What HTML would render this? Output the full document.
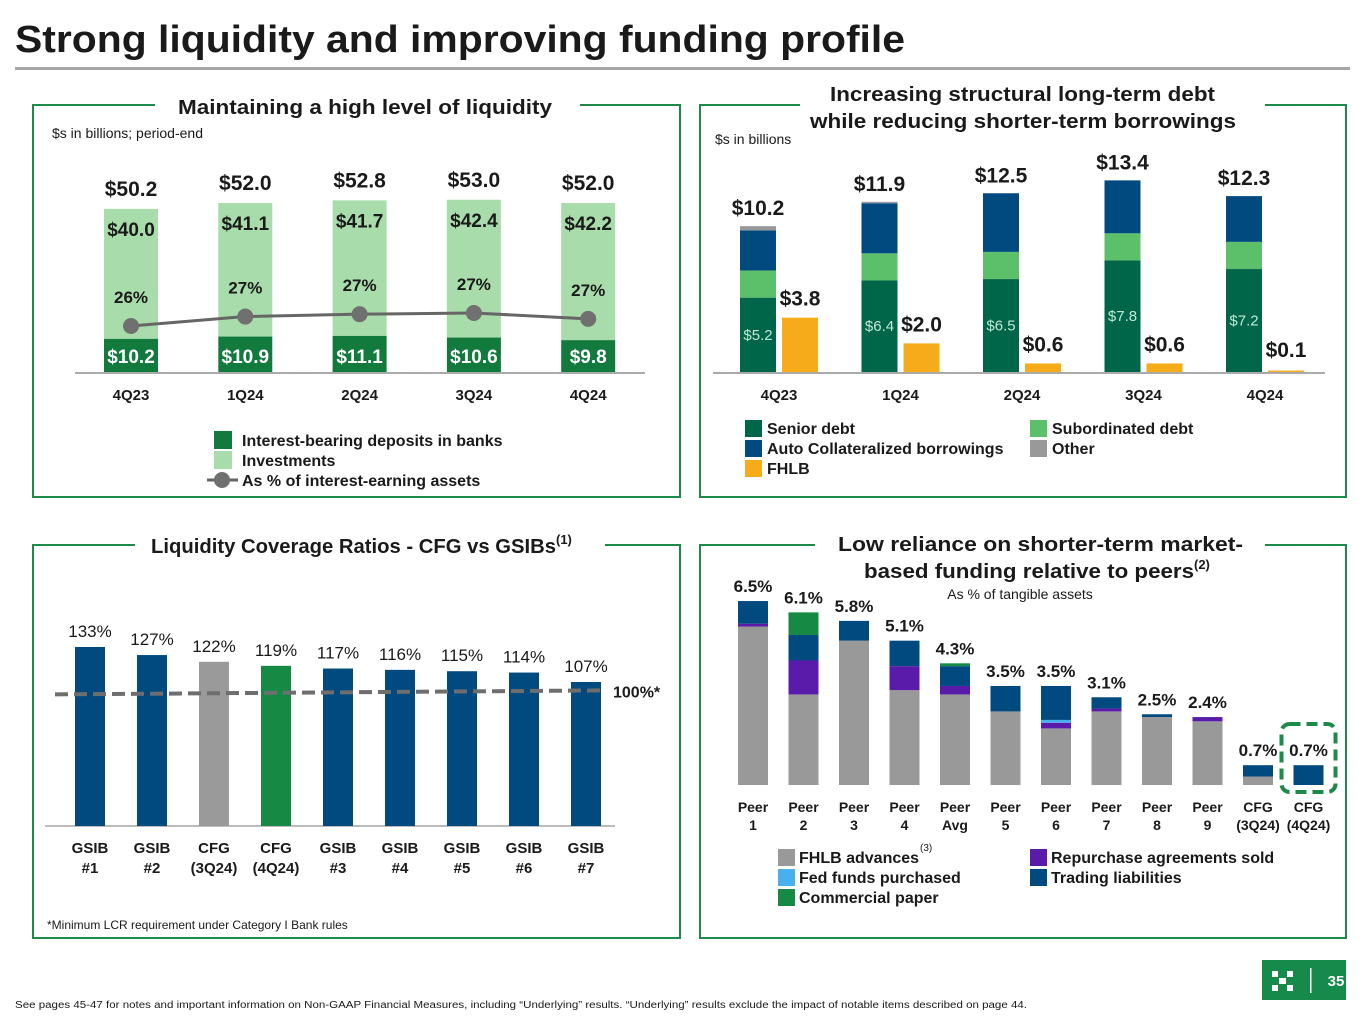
<!DOCTYPE html>
<html><head><meta charset="utf-8"><style>
html,body{margin:0;padding:0;background:#fff}
svg{display:block;font-family:"Liberation Sans",Arial,sans-serif}
</style></head><body>
<svg id="s" width="1365" height="1024" viewBox="0 0 1365 1024" xmlns="http://www.w3.org/2000/svg">
<text x="15" y="52" font-size="38" font-weight="bold" fill="#1a1a1a" textLength="890" lengthAdjust="spacingAndGlyphs">Strong liquidity and improving funding profile</text>
<rect x="15" y="67" width="1335" height="3" fill="#a6a6a6"/>
<g fill="none" stroke="#1e8a4a" stroke-width="2">
<rect x="33" y="105" width="647" height="392"/><rect x="700" y="105" width="646" height="392"/>
<rect x="33" y="545" width="647" height="393"/><rect x="700" y="545" width="646" height="393"/>
</g>
<rect x="155" y="92" width="425" height="26" fill="#fff"/>
<text x="178" y="114" font-size="20" font-weight="bold" fill="#1a1a1a" textLength="374" lengthAdjust="spacingAndGlyphs">Maintaining a high level of liquidity</text>
<rect x="800" y="80" width="465" height="56" fill="#fff"/>
<text font-size="20" font-weight="bold" fill="#1a1a1a"><tspan x="830" y="101" textLength="385" lengthAdjust="spacingAndGlyphs">Increasing structural long-term debt</tspan><tspan x="810" y="128" textLength="426" lengthAdjust="spacingAndGlyphs">while reducing shorter-term borrowings</tspan></text>
<rect x="135" y="530" width="470" height="28" fill="#fff"/>
<text font-size="20" font-weight="bold" fill="#1a1a1a"><tspan x="151" y="553" textLength="405" lengthAdjust="spacingAndGlyphs">Liquidity Coverage Ratios - CFG vs GSIBs</tspan><tspan font-size="13" dy="-9">(1)</tspan></text>
<rect x="815" y="530" width="450" height="56" fill="#fff"/>
<text font-size="20" font-weight="bold" fill="#1a1a1a"><tspan x="838" y="551" textLength="405" lengthAdjust="spacingAndGlyphs">Low reliance on shorter-term market-</tspan><tspan x="864" y="578" textLength="330" lengthAdjust="spacingAndGlyphs">based funding relative to peers</tspan><tspan font-size="13" dy="-9">(2)</tspan></text>
<text x="52" y="138" font-size="14" fill="#1a1a1a">$s in billions; period-end</text>
<text x="715" y="144" font-size="14" fill="#1a1a1a">$s in billions</text>
<text x="1020" y="599" font-size="14" text-anchor="middle" fill="#1a1a1a">As % of tangible assets</text>
<text x="47" y="929" font-size="12" fill="#1a1a1a">*Minimum LCR requirement under Category I Bank rules</text>
<text x="15" y="1008" font-size="10" fill="#1a1a1a" textLength="1012" lengthAdjust="spacingAndGlyphs">See pages 45-47 for notes and important information on Non-GAAP Financial Measures, including “Underlying” results. “Underlying” results exclude the impact of notable items described on page 44.</text>
<g>
<rect x="1262" y="960" width="84" height="40" fill="#168a4a"/>
<g fill="#fff"><rect x="1272" y="971" width="6" height="6"/><rect x="1287" y="971" width="6" height="6"/><rect x="1272" y="985" width="6" height="6"/><rect x="1287" y="985" width="6" height="6"/><rect x="1279" y="978" width="7" height="6"/></g>
<rect x="1310" y="968" width="1.5" height="25" fill="#fff"/>
<text x="1336" y="986" font-size="15" font-weight="bold" fill="#fff" text-anchor="middle">35</text>
</g>
<g id="tl"></g><g id="tr"></g><g id="bl"></g><g id="br"></g>
</svg>
<script>
const NS='http://www.w3.org/2000/svg';
function mk(parent,tag,attrs,txt){const e=document.createElementNS(NS,tag);for(const k in attrs)e.setAttribute(k,attrs[k]);if(txt!==undefined)e.textContent=txt;parent.appendChild(e);return e;}

// ---------- Top-left data ----------
const tlCats=['4Q23','1Q24','2Q24','3Q24','4Q24'];
const tlDeposits=[10.2,10.9,11.1,10.6,9.8];
const tlInvest=[40.0,41.1,41.7,42.4,42.2];
const tlTotals=['$50.2','$52.0','$52.8','$53.0','$52.0'];
const tlPct=[26.4,27.2,27.4,27.5,27.0];
const tlPctLabels=['26%','27%','27%','27%','27%'];
// ---------- Top-right data ----------
const trCats=['4Q23','1Q24','2Q24','3Q24','4Q24'];
const trSenior=[5.2,6.4,6.5,7.8,7.2];
const trSub=[1.9,1.9,1.9,1.9,1.9];
const trAuto=[2.8,3.5,4.1,3.7,3.2];
const trOther=[0.3,0.1,0,0,0];
const trFhlb=[3.8,2.0,0.6,0.6,0.1];
const trTotals=['$10.2','$11.9','$12.5','$13.4','$12.3'];
// ---------- Bottom-left data ----------
const blCats=[['GSIB','#1'],['GSIB','#2'],['CFG','(3Q24)'],['CFG','(4Q24)'],['GSIB','#3'],['GSIB','#4'],['GSIB','#5'],['GSIB','#6'],['GSIB','#7']];
const blVals=[133,127,122,119,117,116,115,114,107];
const blMin=100;
// ---------- Bottom-right data ----------
const brCats=[['Peer','1'],['Peer','2'],['Peer','3'],['Peer','4'],['Peer','Avg'],['Peer','5'],['Peer','6'],['Peer','7'],['Peer','8'],['Peer','9'],['CFG','(3Q24)'],['CFG','(4Q24)']];
const brFhlb=[5.6,3.2,5.1,3.35,3.2,2.6,2.0,2.6,2.4,2.25,0.3,0];
const brRepo=[0.1,1.2,0,0.85,0.3,0,0.2,0.1,0,0.15,0,0];
const brFed=[0,0,0,0,0,0,0.1,0,0,0,0,0];
const brTrading=[0.8,0.9,0.7,0.9,0.7,0.9,1.2,0.4,0.1,0,0.4,0.7];
const brCP=[0,0.8,0,0,0.1,0,0,0,0,0,0,0];
const brLabels=['6.5%','6.1%','5.8%','5.1%','4.3%','3.5%','3.5%','3.1%','2.5%','2.4%','0.7%','0.7%'];

// ===== Top-left chart =====
(function(){
 const g=document.getElementById('tl');
 const base=372, k=3.25, bw=54;
 const x=i=>131+i*114.3;
 const y=v=>base-v*k;
 const yp=p=>base-(p-22.5)*11.8;
 mk(g,'line',{x1:75,x2:645,y1:base+1,y2:base+1,stroke:'#aaa','stroke-width':2,});
 tlCats.forEach((c,i)=>{
  const d=tlDeposits[i],t=d+tlInvest[i];
  let r=mk(g,'rect',{x:x(i)-bw/2,y:y(t),width:bw,height:y(d)-y(t),fill:'#a8dcaa'});
  
  
  r=mk(g,'rect',{x:x(i)-bw/2,y:y(d),width:bw,height:base-y(d),fill:'#137a3e'});
  
  
  mk(g,'text',{x:x(i),y:y(t)-13,'font-size':21,'font-weight':'bold','text-anchor':'middle',fill:'#1a1a1a',},tlTotals[i]);
  mk(g,'text',{x:x(i),y:y(t)+27,'font-size':19,'font-weight':'bold','text-anchor':'middle',fill:'#1a1a1a',},'$'+tlInvest[i].toFixed(1));
  mk(g,'text',{x:x(i),y:base-9,'font-size':19,'font-weight':'bold','text-anchor':'middle',fill:'#fff',},'$'+d.toFixed(1));
  mk(g,'text',{x:x(i),y:400,'font-size':15,'font-weight':'bold','text-anchor':'middle',fill:'#1a1a1a',},c);
  mk(g,'text',{x:x(i),y:yp(tlPct[i])-23,'font-size':17,'font-weight':'bold','text-anchor':'middle',fill:'#1a1a1a',},tlPctLabels[i]);
 });
 const pts=tlPct.map((p,i)=>x(i)+','+yp(p)).join(' ');
 mk(g,'polyline',{points:pts,fill:'none',stroke:'#666','stroke-width':3,});
 tlPct.forEach((p,i)=>{const c=mk(g,'circle',{cx:x(i),cy:yp(p),r:8,fill:'#707070'});
  
  });
 const L=mk(g,'g',{});
 mk(L,'rect',{x:214,y:431,width:18,height:18,fill:'#137a3e'});
 mk(L,'text',{x:242,y:446,'font-size':16,'font-weight':'bold',fill:'#1a1a1a'},'Interest-bearing deposits in banks');
 mk(L,'rect',{x:214,y:451,width:18,height:18,fill:'#a8dcaa'});
 mk(L,'text',{x:242,y:466,'font-size':16,'font-weight':'bold',fill:'#1a1a1a'},'Investments');
 mk(L,'line',{x1:207,x2:238,y1:480,y2:480,stroke:'#666','stroke-width':3});
 mk(L,'circle',{cx:222,cy:480,r:8,fill:'#707070'});
 mk(L,'text',{x:242,y:486,'font-size':16,'font-weight':'bold',fill:'#1a1a1a'},'As % of interest-earning assets');
})();

// ===== Top-right chart =====
(function(){
 const g=document.getElementById('tr');
 const base=372,k=14.3,bw=36;
 const x=i=>779+i*121.5;
 const y=v=>base-v*k;
 mk(g,'line',{x1:713,x2:1325,y1:base+1,y2:base+1,stroke:'#aaa','stroke-width':2,});
 const series=[[trSenior,'#00664a','senior'],[trSub,'#5cbf6a','subordinated'],[trAuto,'#004a80','auto-collateralized'],[trOther,'#999','other']];
 trCats.forEach((c,i)=>{
  let acc=0;const cx=x(i)-21;
  series.forEach(s=>{const v=s[0][i];if(v>0){const r=mk(g,'rect',{x:cx-bw/2,y:y(acc+v),width:bw,height:v*k,fill:s[1]});
   
   }acc+=v;});
  mk(g,'text',{x:cx,y:y(acc)-11,'font-size':21,'font-weight':'bold','text-anchor':'middle',fill:'#1a1a1a',},trTotals[i]);
  mk(g,'text',{x:cx,y:y(trSenior[i]/2)+5,'font-size':15,'text-anchor':'middle',fill:'#bfe8d2',},'$'+trSenior[i].toFixed(1));
  const fx=x(i)+21,f=trFhlb[i];
  const r=mk(g,'rect',{x:fx-bw/2,y:y(f),width:bw,height:f*k,fill:'#f5ab1a'});
  
  
  mk(g,'text',{x:fx,y:Math.min(y(f)-12,357),'font-size':21,'font-weight':'bold','text-anchor':'middle',fill:'#1a1a1a',},'$'+f.toFixed(1));
  mk(g,'text',{x:x(i),y:400,'font-size':15,'font-weight':'bold','text-anchor':'middle',fill:'#1a1a1a',},c);
 });
 const L=mk(g,'g',{});
 [['#00664a','Senior debt',745,420],['#004a80','Auto Collateralized borrowings',745,440],['#f5ab1a','FHLB',745,460],['#5cbf6a','Subordinated debt',1030,420],['#999','Other',1030,440]].forEach(e=>{
  mk(L,'rect',{x:e[2],y:e[3],width:17,height:17,fill:e[0]});
  mk(L,'text',{x:e[2]+22,y:e[3]+14,'font-size':16,'font-weight':'bold',fill:'#1a1a1a'},e[1]);});
})();

// ===== Bottom-left chart =====
(function(){
 const g=document.getElementById('bl');
 const base=826,k=1.346,bw=30;
 const x=i=>90+i*62;
 const y=v=>base-v*k;
 const cols=['#004a80','#004a80','#9a9a9a','#168a45','#004a80','#004a80','#004a80','#004a80','#004a80'];
 mk(g,'line',{x1:45,x2:615,y1:base,y2:base,stroke:'#bbb','stroke-width':2,});
 blVals.forEach((v,i)=>{
  const r=mk(g,'rect',{x:x(i)-bw/2,y:y(v),width:bw,height:base-y(v),fill:cols[i]});
  
  
  mk(g,'text',{x:x(i),y:y(v)-10,'font-size':17,'text-anchor':'middle',fill:'#1a1a1a',},v+'%');
  mk(g,'text',{x:x(i),y:853,'font-size':15,'font-weight':'bold','text-anchor':'middle',fill:'#1a1a1a',},blCats[i][0]);
  mk(g,'text',{x:x(i),y:873,'font-size':15,'font-weight':'bold','text-anchor':'middle',fill:'#1a1a1a',},blCats[i][1]);
 });
 mk(g,'line',{x1:55,x2:603,y1:y(blMin)+3,y2:y(blMin)-1,stroke:'#6e6e6e','stroke-width':4,'stroke-dasharray':'13 6',});
 mk(g,'text',{x:613,y:y(blMin)+6,'font-size':16,'font-weight':'bold',fill:'#1a1a1a',},'100%*');
})();

// ===== Bottom-right chart =====
(function(){
 const g=document.getElementById('br');
 const base=785,k=28.3,bw=30;
 const x=i=>753+i*50.5;
 const y=v=>base-v*k;
 const series=[[brFhlb,'#999','fhlb-advances'],[brRepo,'#5a1aaa','repurchase'],[brFed,'#4aafee','fed-funds'],[brTrading,'#004a80','trading'],[brCP,'#168a45','commercial-paper']];
 brCats.forEach((c,i)=>{
  let acc=0;
  series.forEach(s=>{const v=s[0][i];if(v>0){const r=mk(g,'rect',{x:x(i)-bw/2,y:y(acc+v),width:bw,height:v*k,fill:s[1]});
   
   }acc+=v;});
  mk(g,'text',{x:x(i),y:y(acc)-9,'font-size':17,'font-weight':'bold','text-anchor':'middle',fill:'#1a1a1a',},brLabels[i]);
  mk(g,'text',{x:x(i),y:812,'font-size':14,'font-weight':'bold','text-anchor':'middle',fill:'#1a1a1a',},c[0]);
  mk(g,'text',{x:x(i),y:830,'font-size':14,'font-weight':'bold','text-anchor':'middle',fill:'#1a1a1a',},c[1]);
 });
 mk(g,'rect',{x:x(11)-27,y:724,width:54,height:68,rx:8,fill:'none',stroke:'#1e8a4a','stroke-width':4,'stroke-dasharray':'11 6',});
 const L=mk(g,'g',{});
 [['#999','FHLB advances',778,849],['#4aafee','Fed funds purchased',778,869],['#168a45','Commercial paper',778,889],['#5a1aaa','Repurchase agreements sold',1030,849],['#004a80','Trading liabilities',1030,869]].forEach(e=>{
  mk(L,'rect',{x:e[2],y:e[3],width:17,height:17,fill:e[0]});
  mk(L,'text',{x:e[2]+21,y:e[3]+14,'font-size':16,'font-weight':'bold',fill:'#1a1a1a'},e[1]);});
 mk(L,'text',{x:920,y:851,'font-size':10,fill:'#1a1a1a'},'(3)');
})();
</script>
</body></html>
